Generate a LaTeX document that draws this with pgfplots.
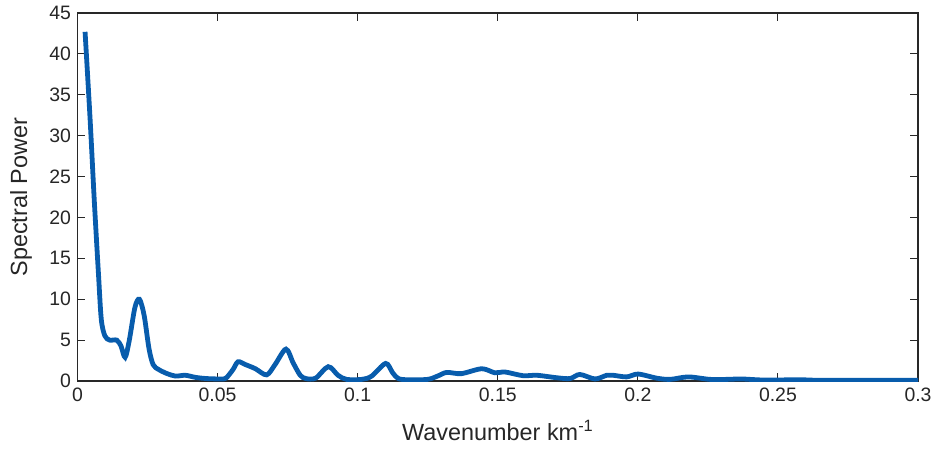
\documentclass[border=0pt]{standalone}
\usepackage{fontspec}
\setmainfont{Liberation Sans}
\usepackage{pgfplots}
\pgfplotsset{compat=1.18}
\definecolor{lineblue}{RGB}{8,92,172}
\definecolor{axgray}{RGB}{40,40,40}
\begin{document}
\begin{tikzpicture}
\useasboundingbox (-77.5bp,-72bp) rectangle (858.5bp,381bp);
\begin{axis}[
  scale only axis,
  width=840.5bp, height=368bp,
  xmin=0, xmax=0.3, ymin=0, ymax=45,
  xtick={0,0.05,0.1,0.15,0.2,0.25,0.3},
  xticklabels={0,0.05,0.1,0.15,0.2,0.25,0.3},
  ytick={0,5,...,45},
  scaled x ticks=false,
  tick align=inside,
  major tick length=8bp,
  axis line style={axgray, line width=1.1bp},
  tick style={axgray, line width=1bp},
  /pgf/number format/assume math mode=true,
  ticklabel style={font=\fontsize{19.5}{21}\selectfont, text=black!85},
  xticklabel style={yshift=-3bp},
  yticklabel style={xshift=-3bp},
  label style={font=\fontsize{23.5}{26}\selectfont, text=black!85},
  xlabel={Wavenumber km\textsuperscript{-1}},
  ylabel={Spectral Power},
  xlabel style={at={(axis description cs:0.5,-0.162)}, anchor=base},
  ylabel style={at={(axis description cs:-0.0672,0.5)}, anchor=center},
]
\addplot[lineblue, line width=4.8bp, smooth, tension=0.5] coordinates {
(0.0027,42.7) (0.0045,32) (0.006,22) (0.0075,13) (0.0085,7.5) (0.0098,5.5)
(0.0115,5.0) (0.014,5.0) (0.0155,4.3) (0.017,2.9) (0.0185,5.0) (0.0205,9.0)
(0.0221,10.0) (0.0238,8.0) (0.0255,4.0) (0.027,2.0) (0.029,1.4) (0.032,0.9)
(0.035,0.6) (0.0385,0.7) (0.042,0.45) (0.046,0.3) (0.051,0.25) (0.053,0.35)
(0.0555,1.4) (0.0573,2.35) (0.060,2.0) (0.0635,1.5) (0.0675,0.75) (0.0705,2.0)
(0.0744,3.9) (0.077,2.2) (0.0795,0.7) (0.0815,0.3) (0.085,0.35) (0.0895,1.75)
(0.093,0.7) (0.096,0.2) (0.1015,0.2) (0.105,0.6) (0.110,2.15) (0.1125,1.0)
(0.1145,0.3) (0.118,0.15) (0.125,0.2) (0.1285,0.6) (0.1318,1.05) (0.137,0.9)
(0.1443,1.5) (0.149,1.0) (0.1526,1.1) (0.159,0.65) (0.164,0.7) (0.171,0.4)
(0.1758,0.3) (0.1793,0.8) (0.1847,0.25) (0.1889,0.7) (0.1912,0.7) (0.196,0.5)
(0.2001,0.85) (0.2067,0.35) (0.2115,0.2) (0.218,0.5) (0.2257,0.2) (0.232,0.2)
(0.237,0.25) (0.245,0.12) (0.258,0.15) (0.265,0.08) (0.28,0.08) (0.3,0.08)
};
\end{axis}
\end{tikzpicture}
\end{document}
